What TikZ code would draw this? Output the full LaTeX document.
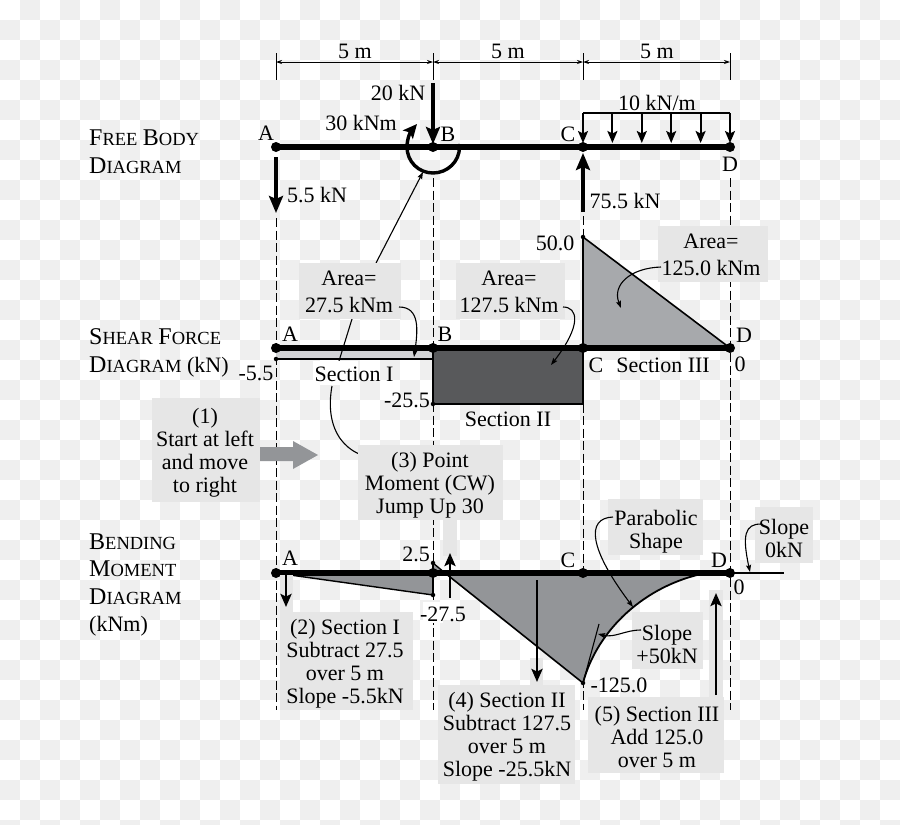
\documentclass[tikz,border=0pt]{standalone}
\usepackage{fontspec}
\setmainfont{Liberation Serif}
\usetikzlibrary{arrows.meta}
\definecolor{chk}{HTML}{EFEFEF}
\definecolor{boxc}{HTML}{E6E6E6}
\definecolor{midg}{HTML}{939598}
\definecolor{ligg}{HTML}{D1D2D4}
\definecolor{trig}{HTML}{A7A9AC}
\definecolor{dkg}{HTML}{58595B}
\newcommand\CapA[2]{{\fontsize{24}{23}\selectfont #1}{\fontsize{18.5}{23}\selectfont #2}}
\tikzset{
 txt/.style={inner sep=0pt,align=center,yshift=-1pt,font=\fontsize{22}{23}\selectfont},
 head/.style={inner sep=0pt,align=left,anchor=west,font=\fontsize{22}{27.5}\selectfont},
 dot/.style={circle,fill=black,inner sep=0pt,minimum size=10pt},
 sdot/.style={circle,fill=black,inner sep=0pt,minimum size=4.5pt},
 beam/.style={line width=5.6pt},
 force/.style={line width=3.6pt,-{Stealth[length=17pt,width=14pt,inset=3pt]}},
 step arrow/.style={line width=2.6pt,-{Stealth[length=13pt,width=11pt,inset=2.5pt]}},
 udl/.style={line width=2pt,-{Stealth[length=12pt,width=10pt,inset=2.5pt]}},
 lead/.style={line width=1.1pt,-{Stealth[length=7pt,width=5pt,inset=1pt]}},
 plainlead/.style={line width=1.1pt},
 dim/.style={line width=.8pt,{Stealth[length=6pt,width=4pt]}-{Stealth[length=6pt,width=4pt]}},
 ext/.style={line width=.9pt},
 guide/.style={line width=.9pt,dash pattern=on 9pt off 3.5pt},
 boxfill/.style={fill=boxc},
 column/.style={fill=boxc},
 patch/.style={fill=white},
 outline/.style={draw=black,line width=1.6pt},
}
\begin{document}
\begin{tikzpicture}[x=1pt,y=-1pt]
\useasboundingbox (0,0) rectangle (900,825);
\begin{scope}
\clip (0,0) rectangle (900,825);
\fill[white] (0,0) rectangle (900,825);
\foreach \i in {0,...,44}{\foreach \j in {0,...,41}{%
  \ifodd\numexpr\i+\j\relax
    \fill[chk] (\i*20,\j*20) rectangle (\i*20+20,\j*20+20);
  \fi}}
\end{scope}

% guide lines
\coordinate (gat) at (276,218); \coordinate (gab) at (276,710);
\coordinate (gbt) at (433,178); \coordinate (gbb) at (433,710);
\coordinate (gct) at (583,216); \coordinate (gcb) at (583,710);
\coordinate (gdt) at (730,178); \coordinate (gdb) at (730,710);
\draw[guide] (gat)--(gab); \draw[guide] (gbt)--(gbb);
\draw[guide] (gct)--(gcb); \draw[guide] (gdt)--(gdb);

% dimensions
\coordinate (e1a) at (276,53); \coordinate (e1b) at (276,80);
\coordinate (e2a) at (433,53); \coordinate (e2b) at (433,80);
\coordinate (e3a) at (583,53); \coordinate (e3b) at (583,80);
\coordinate (e4a) at (730,53); \coordinate (e4b) at (730,80);
\draw[ext] (e1a)--(e1b); \draw[ext] (e2a)--(e2b); \draw[ext] (e3a)--(e3b); \draw[ext] (e4a)--(e4b);
\coordinate (d1) at (276,62); \coordinate (d2) at (433,62); \coordinate (d3) at (583,62); \coordinate (d4) at (730,62);
\draw[dim] (d1)--(d2); \draw[dim] (d2)--(d3); \draw[dim] (d3)--(d4);
\node[txt] (dl1) at (355,50) {5 m};
\node[txt] (dl2) at (508,50) {5 m};
\node[txt] (dl3) at (657,50) {5 m};

% headings
\node[head] (h1) at (89,151.5) {\CapA{F}{REE} \CapA{B}{ODY}\\\CapA{D}{IAGRAM}};
\node[head] (h2) at (89,353) {\CapA{S}{HEAR} \CapA{F}{ORCE}\\\CapA{D}{IAGRAM} (kN)};
\node[head] (h3) at (89,585) {\CapA{B}{ENDING}\\\CapA{M}{OMENT}\\\CapA{D}{IAGRAM}\\(kNm)};

% free body diagram
\node[dot] (fa) at (276,147) {};
\node[dot] (fb) at (433,147) {};
\node[dot] (fc) at (583,147) {};
\node[dot] (fd) at (730,147) {};
\draw[beam] (fa.center)--(fd.center);
\coordinate (f20s) at (433,83); \coordinate (f20e) at (433,144);
\draw[force] (f20s)--(f20e);
\coordinate (mStart) at (460,144);
\coordinate (mEnd) at (417,124);
\draw[line width=3.4pt,-{Stealth[length=14pt,width=13pt,inset=3pt]}] (mStart)--(459.5,147)
  .. controls (459.5,161.5) and (447.5,173) .. (433,173)
  .. controls (418.5,173) and (407,161.5) .. (407,147)
  .. controls (407,138) and (411,131) .. (mEnd);
\coordinate (f5s) at (276,157); \coordinate (f5e) at (276,213);
\draw[force] (f5s)--(f5e);
\coordinate (f75s) at (583,212); \coordinate (f75e) at (583,153);
\draw[force] (f75s)--(f75e);
\coordinate (ua) at (583,113); \coordinate (ub) at (730,113);
\draw[line width=1.5pt] (ua)--(ub);
\foreach \n/\x in {0/583,1/612.4,2/641.8,3/671.2,4/700.6,5/730}{
  \coordinate (ut\n) at (\x,113); \coordinate (ue\n) at (\x,143);
  \draw[udl] (ut\n)--(ue\n);
}
\node[txt] (l20) at (398,92) {20 kN};
\node[txt] (l30) at (361,122) {30 kNm};
\node[txt] (l10) at (657,102) {10 kN/m};
\node[txt] (l5) at (317,194) {5.5 kN};
\node[txt] (l75) at (625,200) {75.5 kN};
\node[txt] (fla) at (266,132) {A};
\node[txt] (flb) at (448,133) {B};
\node[txt] (flc) at (568,133) {C};
\node[txt] (fld) at (730,163) {D};

% shear force diagram
\coordinate (s1a) at (276,350); \coordinate (s1b) at (433,350);
\coordinate (s1c) at (433,359); \coordinate (s1d) at (276,359);
\fill[ligg] (s1a)--(s1b)--(s1c)--(s1d)--cycle;
\draw[line width=1.6pt] (s1d)--(s1c);
\coordinate (s2a) at (433,349); \coordinate (s2b) at (583,349);
\coordinate (s2c) at (583,404); \coordinate (s2d) at (433,404);
\path[fill=dkg,outline] (s2a)--(s2b)--(s2c)--(s2d)--cycle;
\coordinate (s3a) at (583,237); \coordinate (s3b) at (730,348); \coordinate (s3c) at (583,348);
\path[fill=trig,outline] (s3a)--(s3b)--(s3c)--cycle;
\draw[line width=2.6pt] (s3a)--(s3c);
\node[dot] (sa) at (276,348) {};
\node[dot] (sb) at (433,348) {};
\node[dot] (sc) at (583,348) {};
\node[dot] (sd) at (730,348) {};
\draw[beam] (sa.center)--(sd.center);
\node[sdot] (sp1) at (276,359) {};
\node[sdot] (sp2) at (433,404) {};
\node[sdot] (sp3) at (583,237) {};
\node[txt] (sla) at (290,333) {A};
\node[txt] (slb) at (445,333) {B};
\node[txt] (slc) at (596,364) {C};
\node[txt] (sld) at (744,334) {D};
\node[txt] (sl0) at (740,363) {0};
\node[txt] (sv5) at (256,372) {-5.5};
\node[txt] (sv25) at (407,399) {-25.5};
\node[txt] (sv50) at (555,242) {50.0};
\node[txt] (s3txt) at (663,364) {Section III};
\node[txt] (s2txt) at (508,418) {Section II};

% moment leader, runs behind the area box
\coordinate (ml1) at (339,361); \coordinate (ml2) at (376,263); \coordinate (ml3) at (423,172);
\draw[lead] (ml2)--(ml3);
\draw[plainlead] (ml1)--(352,319);

% section I label
\fill[patch] (313,361) rectangle (358,385);
\node[txt] (s1txt) at (354,373) {Section I};
\coordinate (c3a) at (332,386); \coordinate (c3b) at (385,459);
\draw[plainlead] (c3a) .. controls (324,430) and (345,459) .. (c3b);

% bending moment diagram
\coordinate (m1a) at (276,573); \coordinate (m1b) at (433,595); \coordinate (m1c) at (433,573);
\path[fill=midg,draw=black,line width=1.4pt] (m1a)--(m1b)--(m1c)--cycle;
\coordinate (m2t) at (433,563); \coordinate (m2z) at (445,573);
\coordinate (m2a) at (583,683); \coordinate (m2c) at (583,573);
\path[fill=midg] (m2t)--(m2z)--(m1c)--cycle;
\draw[line width=1.4pt] (m2t)--(m2z);
\path[fill=midg] (m2z)--(m2a)--(m2c)--cycle;
\draw[line width=1.6pt] (m2z)--(m2a);
\coordinate (m3e) at (706,573);
\path[fill=midg] (m2a) .. controls (597,630) and (645,585) .. (m3e)--(m2c)--cycle;
\draw[line width=1.8pt] (m2a) .. controls (597,630) and (645,585) .. (m3e);
\coordinate (tan) at (599,624);
\draw[plainlead] (m2a)--(tan);
\node[dot] (ma) at (276,573) {};
\node[dot] (mb) at (433,573) {};
\node[dot] (mc) at (583,573) {};
\node[dot] (md) at (730,573) {};
\coordinate (mx) at (784,573);
\draw[plainlead,line width=1.2pt] (md.center)--(mx);
\draw[beam] (ma.center)--(md.center);
\draw[line width=1.6pt] (433,563)--(433,595);
\node[sdot] (mp1) at (433,563) {};
\node[sdot] (mp2) at (433,595) {};
\node[sdot] (mp3) at (583,683) {};
\node[txt] (mla) at (290,557) {A};
\node[txt] (mlc) at (568,559) {C};
\node[txt] (mld) at (719,559) {D};
\node[txt] (ml0) at (739,586) {0};
\node[txt] (mv2) at (416,553) {2.5};
\fill[patch] (423,602) rectangle (443,623);
\node[txt] (mv27) at (443,613) {-27.5};
\node[txt] (mv125) at (619,684) {-125.0};

% light columns and step arrows
\fill[column] (280,575) rectangle (293,612);
\fill[column] (443,520) rectangle (457,556);
\fill[column] (530,658) rectangle (543,685);
\fill[column] (709,590) rectangle (723,698);
\coordinate (a2s) at (286,575); \coordinate (a2e) at (286,607);
\draw[step arrow] (a2s)--(a2e);
\coordinate (a3s) at (450,598); \coordinate (a3e) at (450,553);
\draw[step arrow] (a3s)--(a3e);
\coordinate (a4s) at (537,580); \coordinate (a4e) at (537,682);
\draw[step arrow] (a4s)--(a4e);
\coordinate (a5s) at (716,695); \coordinate (a5e) at (716,593);
\draw[step arrow] (a5s)--(a5e);

% block arrow
\path[fill=midg] (260,447)--(293,447)--(293,441)--(318,455)--(293,469)--(293,461)--(260,461)--cycle;

% boxes
\path[boxfill] (299,263) rectangle (401,319);
\node[txt,font=\fontsize{22}{27}\selectfont] (b1) at (349,291) {Area=\\27.5 kNm};
\path[boxfill] (456,263) rectangle (565,319);
\node[txt,font=\fontsize{22}{27}\selectfont] (b2) at (509,291) {Area=\\127.5 kNm};
\path[boxfill] (658,226) rectangle (768,282);
\node[txt,font=\fontsize{22}{27}\selectfont] (b3) at (711,254) {Area=\\125.0 kNm};
\path[boxfill] (152,398) rectangle (260,502);
\node[txt] (t1) at (205,452) {(1)\\Start at left\\and move\\to right};
\path[boxfill] (358,445) rectangle (503,520);
\node[txt] (t3) at (430,484) {(3) Point\\Moment (CW)\\Jump Up 30};
\path[boxfill] (280,612) rectangle (413,710);
\node[txt] (t2) at (345,662.5) {(2) Section I\\Subtract 27.5\\over 5 m\\Slope -5.5kN};
\path[boxfill] (438,685) rectangle (575,784);
\node[txt] (t4) at (507,736) {(4) Section II\\Subtract 127.5\\over 5 m\\Slope -25.5kN};
\path[boxfill] (588,697) rectangle (724,773);
\node[txt] (t5) at (657,735.5) {(5) Section III\\Add 125.0\\over 5 m};
\path[boxfill] (608,499) rectangle (703,555);
\node[txt] (t6) at (656,531) {Parabolic\\Shape};
\path[boxfill] (632,612) rectangle (703,669);
\node[txt] (t7) at (667,643.5) {Slope\\+50kN};
\path[boxfill] (755,507) rectangle (813,563);
\node[txt] (t8) at (784,537) {Slope\\0kN};

% curved leaders
\coordinate (k1a) at (399,307); \coordinate (k1b) at (414,357);
\draw[lead] (k1a) .. controls (420,307) and (418,330) .. (k1b);
\coordinate (k2a) at (563,307); \coordinate (k2b) at (551,365);
\draw[lead] (k2a) .. controls (578,307) and (582,325) .. (k2b);
\coordinate (k3a) at (661,267); \coordinate (k3b) at (621,308);
\draw[lead] (k3a) .. controls (630,268) and (612,285) .. (k3b);
\coordinate (k6a) at (613,517); \coordinate (k6b) at (633,607);
\draw[lead] (k6a) .. controls (585,518) and (590,550) .. (k6b);
\coordinate (k7a) at (641,630); \coordinate (k7b) at (598,634);
\draw[lead] (k7a) .. controls (625,630) and (615,638) .. (k7b);
\coordinate (k8a) at (761,524); \coordinate (k8b) at (750,572);
\draw[lead] (k8a) .. controls (745,524) and (742,535) .. (k8b);
\end{tikzpicture}
\end{document}
